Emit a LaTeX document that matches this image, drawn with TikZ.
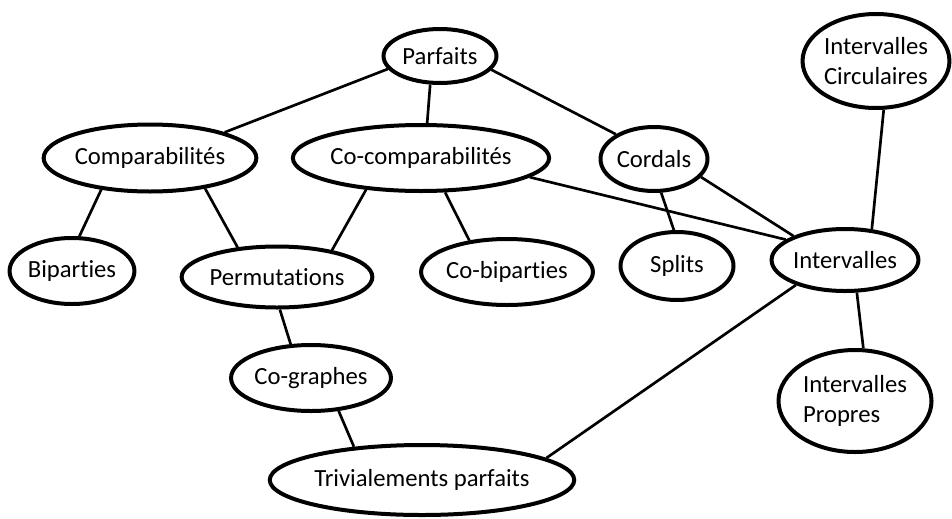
\documentclass[tikz,border=0pt]{standalone}
\usepackage{fontspec}
\setmainfont[Ligatures=NoCommon]{Carlito}
\usepackage{tikz}
\usetikzlibrary{shapes.geometric}
\pgfdeclarelayer{bg}
\pgfsetlayers{bg,main}
\tikzset{
    every node/.style={ellipse, draw, line width=3pt, inner sep=0mm, align=left,
        font=\fontsize{18.5}{22.5}\selectfont}
}
\tikzset{esize/.style 2 args={minimum width=#1*0.75pt, minimum height=#2*0.75pt}}
\tikzset{every edge/.style={draw, line width=2pt}}

\begin{document}
\begin{tikzpicture}[x=0.75pt, y=-0.75pt]
    \useasboundingbox (0,0) rectangle (952,518);

    \node (parf) [esize={113}{54}] at (440,56) {Parfaits};
    \node (comp) [esize={190}{67}] at (150,158) {Comparabilités};
    \node (cocomp) [esize={215}{66}] at (421,158) {Co-comparabilités};
    \node (cord) [esize={107}{64}] at (654,159) {Cordals};
    \node (icirc) [esize={146}{94}] at (876,61) {Intervalles\\Circulaires};

    \node (bip) [esize={121}{66}] at (72,271) {Biparties};
    \node (perm) [esize={177}{61}] at (277,277) {Permutations};
    \node (cobip) [esize={160}{66}] at (507,272) {Co-biparties};
    \node (split) [esize={113}{68}] at (677,266) {Splits};
    \node (inter) [esize={134}{62}] at (845,260) {Intervalles};

    \node (cogr) [esize={158}{66}] at (311,378) {Co-graphes};
    \node (iprop) [esize={153}{102}] at (855,401) {Intervalles\\Propres};
    \node (triv) [esize={267}{70}] at (422,480) {Trivialements parfaits};

    \begin{pgfonlayer}{bg}
        \draw (parf.194) edge (comp.19);
        \draw (parf.251) edge (cocomp.80);
        \draw (parf.345) edge (cord.147);

        \draw (comp.213) edge (bip.78);
        \draw (comp.331) edge (perm.143);
        \draw (cocomp.210) edge (perm.26);
        \draw (cocomp.305) edge (cobip.140);
        \draw (cocomp.350) edge (inter.161);

        \draw (cord.282) edge (split.95);
        \draw (cord.339) edge (inter.155);
        \draw (icirc.279) edge (inter.49);
        \draw (inter.290) edge (iprop.81);
        \draw (inter.207) edge (triv.10);

        \draw (perm.275) edge (cogr.121);
        \draw (cogr.310) edge (triv.154);
    \end{pgfonlayer}
\end{tikzpicture}
\end{document}
